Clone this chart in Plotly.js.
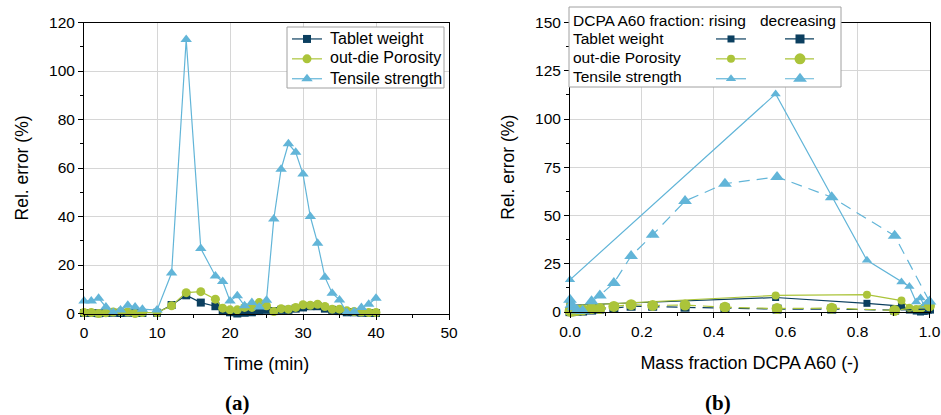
<!DOCTYPE html>
<html><head><meta charset="utf-8">
<script src="https://cdn.plot.ly/plotly-3.0.1.min.js"></script>
<style>html,body{margin:0;padding:0;background:#fff}#chart{width:941px;height:415px}</style>
</head><body><div id="chart"></div>
<script>
// ---- (a) time series ----
const timeMin = [0,1,2,3,4,5,6,7,8,10,12,14,16,18,19,20,21,22,23,24,25,26,27,28,29,30,31,32,33,34,35,36,37,38,39,40];
const tabletWeightT = [0.2,0.2,0.1,0.2,0.3,0.2,0.3,0.2,0.2,0.3,3.5,7.5,4.5,3.0,1.0,0.5,0.0,0.3,0.5,1.0,1.5,1.0,1.5,1.5,2.0,2.5,3.0,3.0,2.0,1.5,1.0,0.5,0.5,0.3,0.2,0.2];
const porosityT = [0.4,0.4,0.0,0.3,0.6,0.8,0.6,0.0,0.4,0.4,3.2,8.6,9.0,5.9,2.2,1.5,1.5,2.5,2.5,4.5,3.2,0.8,2.0,1.8,2.5,3.6,3.4,3.8,2.9,1.8,1.8,1.1,0.8,0.6,0.4,0.4];
const tensileT = [5.2,5.2,6.3,2.7,0.4,1.4,3.4,2.7,1.8,1.4,16.7,113,26.8,15.5,13.2,5.2,7.3,3.2,4.5,2.7,5.5,39,59.5,70,66.5,57.5,40,29,15,8.4,5.6,0.4,0.7,2.5,3.8,6.3];

// ---- (b) vs mass fraction ----
const fracRising = [0,0.572,0.826,0.922,0.944,0.963,0.975,0.985,0.992,0.997,1.0];
const tabletWeightR = [3.5,7.5,4.5,3.0,1.0,0.5,0.0,0.3,0.5,1.0,1.5];
const porosityR = [3.2,8.6,9.0,5.9,2.2,1.5,1.5,2.5,2.5,4.5,3.2];
const tensileR = [16.7,113,26.8,15.5,13.2,5.2,7.3,3.2,4.5,2.7,5.5];

const fracDecreasing = [1.0,0.903,0.728,0.576,0.431,0.320,0.230,0.170,0.122,0.083,0.060,0.035,0.020,0.010,0.004,0.0];
const tabletWeightD = [1.5,1.0,1.5,1.5,2.0,2.5,3.0,3.0,2.0,1.5,1.0,0.5,0.5,0.3,0.2,0.2];
const porosityD = [3.2,0.8,2.0,1.8,2.5,3.6,3.4,3.8,2.9,1.8,1.8,1.1,0.8,0.6,0.4,0.4];
const tensileD = [5.5,39.5,59.5,70,66.5,57.5,40,29,15,8.6,5.6,0.6,0.8,2.5,3.8,6.3];

const seriesNames = ['Tablet weight','out-die Porosity','Tensile strength'];
const legendHeader = ['DCPA A60 fraction: rising', 'decreasing'];
const cDark = '#0b3f5f', cGreen = '#abc43a', cBlue = '#62b5d8';
const FONT = 'Liberation Sans, Arial, sans-serif';
const DASH = '11px,7px';

function tr(x, y, color, symbol, size, dash, xa, ya, legend) {
  return {x: x, y: y, name: ' ', type: 'scatter', mode: 'lines+markers', xaxis: xa, yaxis: ya,
    line: {color: color, width: 1.2, dash: dash}, marker: {color: color, symbol: symbol, size: size},
    cliponaxis: false, legend: legend, showlegend: true, hoverinfo: 'skip'};
}

const data = [
  tr(timeMin, tabletWeightT, cDark, 'square', 8, 'solid', 'x', 'y', 'legend'),
  tr(timeMin, porosityT, cGreen, 'circle', 9, 'solid', 'x', 'y', 'legend'),
  tr(timeMin, tensileT, cBlue, 'triangle-up', 10, 'solid', 'x', 'y', 'legend'),
  tr(fracRising, tabletWeightR, cDark, 'square', 7, 'solid', 'x2', 'y2', 'legend2'),
  tr(fracRising, porosityR, cGreen, 'circle', 8, 'solid', 'x2', 'y2', 'legend2'),
  tr(fracRising, tensileR, cBlue, 'triangle-up', 9, 'solid', 'x2', 'y2', 'legend2'),
  tr(fracDecreasing, tabletWeightD, cDark, 'square', 9, DASH, 'x2', 'y2', 'legend3'),
  tr(fracDecreasing, porosityD, cGreen, 'circle', 11, DASH, 'x2', 'y2', 'legend3'),
  tr(fracDecreasing, tensileD, cBlue, 'triangle-up', 12, DASH, 'x2', 'y2', 'legend3')
];

const W = 941, H = 415;
const px = v => v / W, py = v => 1 - v / H;

function axis(extra) {
  return Object.assign({
    showline: true, mirror: true, linecolor: '#000', linewidth: 1,
    ticks: 'outside', ticklen: 5, tickwidth: 1, tickcolor: '#000',
    showgrid: true, gridcolor: '#d6d6d6', gridwidth: 1, zeroline: false,
    tickfont: {family: FONT, size: 15.5, color: '#000'}
  }, extra);
}
const tfont = s => ({family: FONT, size: s, color: '#000'});
const legendCommon = {xanchor: 'left', yanchor: 'top', bgcolor: 'rgba(0,0,0,0)', borderwidth: 0, font: {family: FONT, size: 13, color: '#000'}};

function ann(text, x, y, xanchor, size) {
  return {text: text, xref: 'paper', yref: 'paper', x: px(x), y: py(y), xanchor: xanchor, yanchor: 'middle',
    showarrow: false, font: tfont(size)};
}

const layout = {
  width: W, height: H, margin: {l: 0, r: 0, t: 0, b: 0},
  paper_bgcolor: '#fff', plot_bgcolor: '#fff',
  font: {family: FONT, size: 15, color: '#000'},
  xaxis: axis({domain: [px(84), px(449)], range: [0, 50], dtick: 10, anchor: 'y',
    minor: {ticks: 'outside', ticklen: 3, dtick: 5, tickcolor: '#000', showgrid: false},
    title: {text: 'Time (min)', standoff: 17, font: tfont(18)}}),
  yaxis: axis({domain: [py(313.5), py(22.5)], range: [0, 120], dtick: 20, anchor: 'x',
    minor: {ticks: 'outside', ticklen: 3, dtick: 10, tickcolor: '#000', showgrid: false},
    title: {text: 'Rel. error (%)', standoff: 15, font: tfont(17.5)}}),
  xaxis2: axis({domain: [px(570), px(929.5)], range: [0, 1], dtick: 0.2, tickformat: '.1f', anchor: 'y2',
    minor: {ticks: 'outside', ticklen: 3, dtick: 0.1, tickcolor: '#000', showgrid: false},
    title: {text: 'Mass fraction DCPA A60 (-)', standoff: 17, font: tfont(18)}}),
  yaxis2: axis({domain: [py(312), py(22.5)], range: [0, 150], dtick: 25, anchor: 'x2',
    minor: {ticks: 'outside', ticklen: 3, dtick: 12.5, tickcolor: '#000', showgrid: false},
    title: {text: 'Rel. error (%)', standoff: 15, font: tfont(17.5)}}),
  legend: Object.assign({x: px(287), y: py(24)}, legendCommon),
  legend2: Object.assign({x: px(711), y: py(24)}, legendCommon),
  legend3: Object.assign({x: px(780), y: py(24)}, legendCommon),
  shapes: [
    {type: 'rect', xref: 'paper', yref: 'paper', x0: px(287), x1: px(444), y0: py(88), y1: py(27),
      fillcolor: '#fff', line: {color: '#a0a0a0', width: 1}, layer: 'above'},
    {type: 'rect', xref: 'paper', yref: 'paper', x0: px(569), x1: px(841), y0: py(87), y1: py(7),
      fillcolor: '#fff', line: {color: '#a0a0a0', width: 1}, layer: 'above'}
  ],
  annotations: [
    ann(seriesNames[0], 328, 38.5, 'left', 16),
    ann(seriesNames[1], 328, 58, 'left', 16),
    ann(seriesNames[2], 328, 78, 'left', 16),
    ann(legendHeader[0], 571, 20, 'left', 15.5),
    ann(legendHeader[1], 758, 20, 'left', 15.5),
    ann(seriesNames[0], 571, 38.5, 'left', 15.5),
    ann(seriesNames[1], 571, 58, 'left', 15.5),
    ann(seriesNames[2], 571, 77, 'left', 15.5),
    {text: '<b>(a)</b>', xref: 'paper', yref: 'paper', x: px(237.5), y: py(403), xanchor: 'center', yanchor: 'middle', showarrow: false, font: {family: 'Liberation Serif, serif', size: 21, color: '#000'}},
    {text: '<b>(b)</b>', xref: 'paper', yref: 'paper', x: px(718), y: py(403), xanchor: 'center', yanchor: 'middle', showarrow: false, font: {family: 'Liberation Serif, serif', size: 21, color: '#000'}}
  ]
};

Plotly.newPlot('chart', data, layout, {staticPlot: true, displayModeBar: false});
</script></body></html>
